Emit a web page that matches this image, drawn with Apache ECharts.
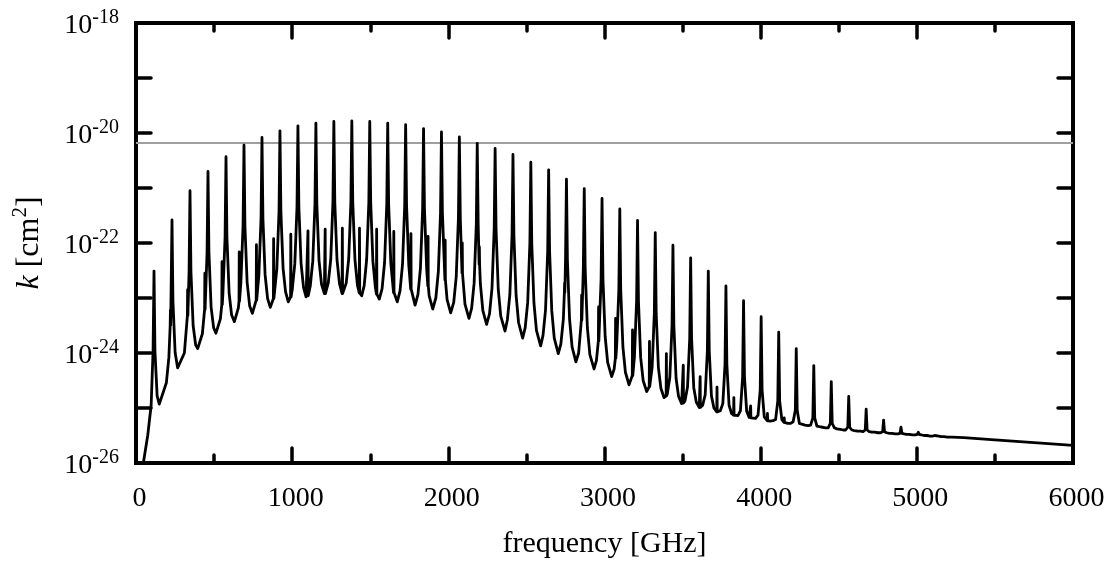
<!DOCTYPE html>
<html>
<head>
<meta charset="utf-8">
<script src="https://cdn.jsdelivr.net/npm/echarts@6/dist/echarts.min.js"></script>
<style>
html,body{margin:0;padding:0;background:#fff;}
#chart{width:1114px;height:564px;}
</style>
</head>
<body>
<div id="chart"></div>
<script>
// ---------- data (k as log10 exponent, frequency in GHz) ----------
const xTicks = [0, 1000, 2000, 3000, 4000, 5000, 6000];
const yMinExp = -26, yMaxExp = -18;

// main (12CO) absorption line centres and peak heights
const lineFreq = [115.3, 230.5, 345.8, 461.0, 576.3, 691.5, 806.7, 921.8, 1036.9, 1152.0,
  1267.0, 1382.0, 1496.9, 1611.8, 1726.6, 1841.3, 1956.0, 2070.6, 2185.1, 2299.6,
  2413.9, 2528.2, 2642.3, 2756.4, 2870.3, 2984.2, 3097.9, 3211.5, 3325.0, 3438.3,
  3551.6, 3664.7, 3777.6, 3890.4, 4003.1, 4115.6, 4227.9, 4340.1, 4452.1, 4563.9,
  4675.6, 4787.1, 4898.4, 5009.5, 5120.4, 5231.1];
const linePeakLog = [-22.51, -21.58, -21.05, -20.70, -20.43, -20.22, -20.08, -19.96, -19.87, -19.82,
  -19.79, -19.78, -19.79, -19.82, -19.85, -19.92, -19.98, -20.07, -20.19, -20.28,
  -20.39, -20.53, -20.67, -20.84, -21.01, -21.19, -21.38, -21.59, -21.81, -22.04,
  -22.27, -22.51, -22.78, -23.05, -23.34, -23.62, -23.92, -24.23, -24.52, -24.79,
  -25.02, -25.22, -25.35, -25.44, -25.49, -25.52];

// minima between neighbouring lines
const troughFreq = [149, 273, 395, 512, 630, 745, 860, 975, 1089, 1206,
  1327, 1445, 1558, 1673, 1787, 1900, 2015, 2132, 2245, 2363,
  2476, 2591, 2704, 2817, 2933, 3046, 3157, 3270, 3381, 3494,
  3607, 3718, 3835, 3949, 4060, 4173, 4284, 4397, 4510, 4620,
  4730, 4840, 4950, 5065, 5175];
const troughLog = [-24.93, -24.30, -23.92, -23.64, -23.43, -23.28, -23.17, -23.07, -22.98, -22.92,
  -22.93, -22.96, -23.02, -23.07, -23.13, -23.20, -23.27, -23.37, -23.48, -23.60,
  -23.73, -23.87, -24.01, -24.16, -24.29, -24.43, -24.58, -24.70, -24.81, -24.92,
  -24.99, -25.07, -25.14, -25.19, -25.24, -25.28, -25.31, -25.35, -25.39, -25.42,
  -25.44, -25.46, -25.48, -25.50, -25.52];

// line wings: values 6, 20, 36 GHz to the right of each line, and 36, 20, 6 GHz before the next one
const rightOffsets = [6, 20, 36];
const leftOffsets = [36, 20, 6];
const rightFlankLog = [
  [-23.96, -24.78, -24.92], [-23.05, -23.99, -24.27], [-22.52, -23.50, -23.85], [-22.17, -23.17, -23.54],
  [-21.90, -22.91, -23.31], [-21.69, -22.71, -23.14], [-21.55, -22.58, -23.01], [-21.43, -22.46, -22.89],
  [-21.34, -22.37, -22.81], [-21.29, -22.32, -22.75], [-21.26, -22.30, -22.74], [-21.25, -22.30, -22.77],
  [-21.26, -22.33, -22.81], [-21.29, -22.37, -22.85], [-21.32, -22.40, -22.89], [-21.39, -22.47, -22.96],
  [-21.45, -22.53, -23.03], [-21.54, -22.62, -23.11], [-21.66, -22.74, -23.23], [-21.75, -22.84, -23.33],
  [-21.86, -22.95, -23.45], [-22.00, -23.09, -23.59], [-22.14, -23.23, -23.73], [-22.31, -23.39, -23.89],
  [-22.48, -23.54, -24.03], [-22.66, -23.70, -24.17], [-22.85, -23.89, -24.35], [-23.06, -24.08, -24.50],
  [-23.28, -24.26, -24.64], [-23.51, -24.46, -24.79], [-23.73, -24.63, -24.89], [-23.96, -24.78, -25.00],
  [-24.21, -24.95, -25.10], [-24.44, -25.06, -25.17], [-24.67, -25.16, -25.22], [-24.87, -25.21, -25.26],
  [-25.04, -25.28, -25.30], [-25.18, -25.33, -25.34], [-25.28, -25.36, -25.38], [-25.35, -25.40, -25.41],
  [-25.40, -25.43, -25.44], [-25.43, -25.45, -25.46], [-25.46, -25.47, -25.48], [-25.48, -25.49, -25.50],
  [-25.50, -25.51, -25.52]];
const leftFlankLog = [
  [-24.54, -24.08, -23.05], [-24.00, -23.55, -22.52], [-23.65, -23.20, -22.17], [-23.38, -22.93, -21.90],
  [-23.18, -22.72, -21.69], [-23.05, -22.59, -21.55], [-22.93, -22.47, -21.43], [-22.84, -22.38, -21.34],
  [-22.78, -22.33, -21.29], [-22.73, -22.30, -21.26], [-22.73, -22.29, -21.25], [-22.78, -22.30, -21.26],
  [-22.83, -22.35, -21.29], [-22.87, -22.39, -21.32], [-22.94, -22.46, -21.39], [-23.00, -22.52, -21.45],
  [-23.08, -22.61, -21.54], [-23.19, -22.73, -21.66], [-23.29, -22.82, -21.75], [-23.40, -22.94, -21.86],
  [-23.54, -23.08, -22.00], [-23.68, -23.22, -22.14], [-23.84, -23.39, -22.31], [-24.00, -23.55, -22.48],
  [-24.14, -23.70, -22.66], [-24.29, -23.87, -22.85], [-24.48, -24.08, -23.06], [-24.61, -24.26, -23.28],
  [-24.74, -24.44, -23.51], [-24.87, -24.62, -23.74], [-24.95, -24.76, -23.96], [-25.05, -24.92, -24.21],
  [-25.14, -25.05, -24.44], [-25.19, -25.13, -24.67], [-25.23, -25.21, -24.87], [-25.28, -25.25, -25.04],
  [-25.32, -25.31, -25.18], [-25.36, -25.36, -25.28], [-25.40, -25.40, -25.35], [-25.42, -25.43, -25.40],
  [-25.45, -25.45, -25.43], [-25.47, -25.47, -25.46], [-25.49, -25.49, -25.48], [-25.51, -25.51, -25.50],
  [-25.53, -25.53, -25.53]];

// weaker (13CO) lines: centre, peak and local level of the curve beneath them
const isoFreq = [220.4, 330.6, 440.8, 550.9, 661.1, 771.2, 881.3, 991.3, 1101.3, 1211.3,
  1321.3, 1431.1, 1541.0, 1650.8, 1760.5, 1870.1, 1979.7, 2089.2, 2198.7, 2744.5,
  2853.4, 2962.2, 3070.9, 3179.4, 3287.9, 3396.2, 3504.4, 3612.5, 3720.4, 3828.2,
  3935.9, 4043.4, 4150.8, 4258.0];
const isoPeakLog = [-23.22, -22.85, -22.55, -22.34, -22.16, -22.03, -21.92, -21.84, -21.78, -21.75,
  -21.73, -21.73, -21.75, -21.79, -21.83, -21.88, -21.95, -22.00, -22.07, -22.73,
  -22.95, -23.16, -23.37, -23.58, -23.79, -24.01, -24.22, -24.43, -24.62, -24.81,
  -24.96, -25.10, -25.18, -25.25];
const isoBaseLog = [-23.50, -23.32, -23.21, -23.12, -23.06, -23.04, -23.01, -22.98, -22.96, -22.92,
  -22.92, -22.91, -22.93, -22.90, -22.84, -22.78, -22.67, -22.55, -22.39, -22.90,
  -23.40, -23.78, -24.10, -24.41, -24.61, -24.78, -24.91, -24.99, -25.07, -25.13,
  -25.18, -25.23, -25.26, -25.30];
const isoHalfWidth = 1.5;

// steep rise at the low-frequency end and the smooth high-frequency tail
const riseFreq = [30, 47, 75, 97, 109.3];
const riseLog = [-26.5, -26.0, -25.5, -24.95, -23.96];
const tailFreq = [5237.1, 5300, 5500, 5750, 6000];
const tailLog = [-25.53, -25.54, -25.58, -25.63, -25.68];

// grey reference level
const greyLevelLog = -20.18;

// ---------- build the curve from the arrays ----------
const toPlot = e => Math.pow(10, e - yMinExp);   // plotted in units of 1e-26 cm^2 on a log axis
const pts = [];
riseFreq.forEach((f, i) => pts.push([f, riseLog[i], 'm']));
tailFreq.forEach((f, i) => pts.push([f, tailLog[i], 'm']));
lineFreq.forEach((f, i) => pts.push([f, linePeakLog[i], 'p']));
troughFreq.forEach((f, i) => pts.push([f, troughLog[i], 'm']));
for (let c = 0; c < troughFreq.length; c++) {
  rightOffsets.forEach((d, j) => pts.push([lineFreq[c] + d, rightFlankLog[c][j], 'm']));
  leftOffsets.forEach((d, j) => pts.push([lineFreq[c + 1] - d, leftFlankLog[c][j], 'm']));
}
const kept = pts.filter(p => p[2] !== 'm' || !isoFreq.some(f => Math.abs(f - p[0]) < 5));
isoFreq.forEach((f, i) => {
  kept.push([f - isoHalfWidth, isoBaseLog[i]]);
  kept.push([f, isoPeakLog[i]]);
  kept.push([f + isoHalfWidth, isoBaseLog[i]]);
});
kept.sort((a, b) => a[0] - b[0]);
const curve = kept.map(p => [p[0], toPlot(p[1])]);

const FONT = 'Liberation Serif';
const axisLineStyle = { color: '#000', width: 4, cap: 'square' };
const tickStyle = { color: '#000', width: 3.5, cap: 'round' };

function xAxisCfg(pos, showLabels) {
  return {
    type: 'value', position: pos, min: xTicks[0], max: xTicks[xTicks.length - 1], interval: 1000,
    axisLine: { show: true, onZero: false, lineStyle: axisLineStyle },
    axisTick: { show: true, inside: true, length: 15, lineStyle: tickStyle },
    minorTick: { show: true, splitNumber: 2, length: 8, lineStyle: tickStyle },
    splitLine: { show: false }, minorSplitLine: { show: false },
    axisLabel: showLabels ? {
      show: true, margin: 22, fontFamily: FONT, fontSize: 28, color: '#000',
      padding: [0, 0, 0, 7], formatter: v => String(v)
    } : { show: false },
    name: showLabels ? 'frequency [GHz]' : '',
    nameLocation: 'middle', nameGap: 66,
    nameTextStyle: { fontFamily: FONT, fontSize: 30, color: '#000' }
  };
}
function yAxisCfg(pos, showLabels) {
  return {
    type: 'log', logBase: 10, position: pos, min: 1, max: toPlot(yMaxExp),
    axisLine: { show: true, onZero: false, lineStyle: axisLineStyle },
    axisTick: { show: true, inside: true, length: 15, lineStyle: tickStyle },
    minorTick: { show: false }, splitLine: { show: false }, minorSplitLine: { show: false },
    axisLabel: showLabels ? {
      show: true, margin: 17, padding: [6, 0, 0, 0],
      formatter: v => {
        const e = Math.round(Math.log10(v)) + yMinExp;
        return e % 2 === 0 ? '{b|10}{s|' + e + '}' : '';
      },
      rich: {
        b: { fontFamily: FONT, fontSize: 28, lineHeight: 36, color: '#000' },
        s: { fontFamily: FONT, fontSize: 20, lineHeight: 20, verticalAlign: 'top', color: '#000' }
      }
    } : { show: false },
    name: showLabels ? '{i|k} [cm{s|2}]' : '',
    nameLocation: 'middle', nameGap: 86, nameRotate: 90,
    nameTextStyle: {
      fontFamily: FONT, fontSize: 32, color: '#000',
      rich: {
        i: { fontFamily: FONT, fontSize: 32, fontStyle: 'italic', lineHeight: 40, color: '#000' },
        s: { fontFamily: FONT, fontSize: 21, lineHeight: 21, verticalAlign: 'top', color: '#000' }
      }
    }
  };
}

const chart = echarts.init(document.getElementById('chart'), null, { renderer: 'canvas' });
chart.setOption({
  animation: false,
  backgroundColor: '#fff',
  textStyle: { fontFamily: FONT },
  grid: { left: 136, right: 41, top: 23, bottom: 101, containLabel: false },
  xAxis: [xAxisCfg('bottom', true), xAxisCfg('top', false)],
  yAxis: [yAxisCfg('left', true), yAxisCfg('right', false)],
  series: [
    {
      type: 'line', xAxisIndex: 0, yAxisIndex: 0, showSymbol: false, symbol: 'none',
      data: [[xTicks[0], toPlot(greyLevelLog)], [xTicks[xTicks.length - 1], toPlot(greyLevelLog)]],
      lineStyle: { color: '#9f9f9f', width: 2 }, z: 1, silent: true
    },
    {
      type: 'line', xAxisIndex: 0, yAxisIndex: 0, showSymbol: false, symbol: 'none',
      data: curve, clip: true, sampling: null,
      lineStyle: { color: '#000', width: 2.8, join: 'round' }, z: 2, silent: true
    }
  ]
});
</script>
</body>
</html>
